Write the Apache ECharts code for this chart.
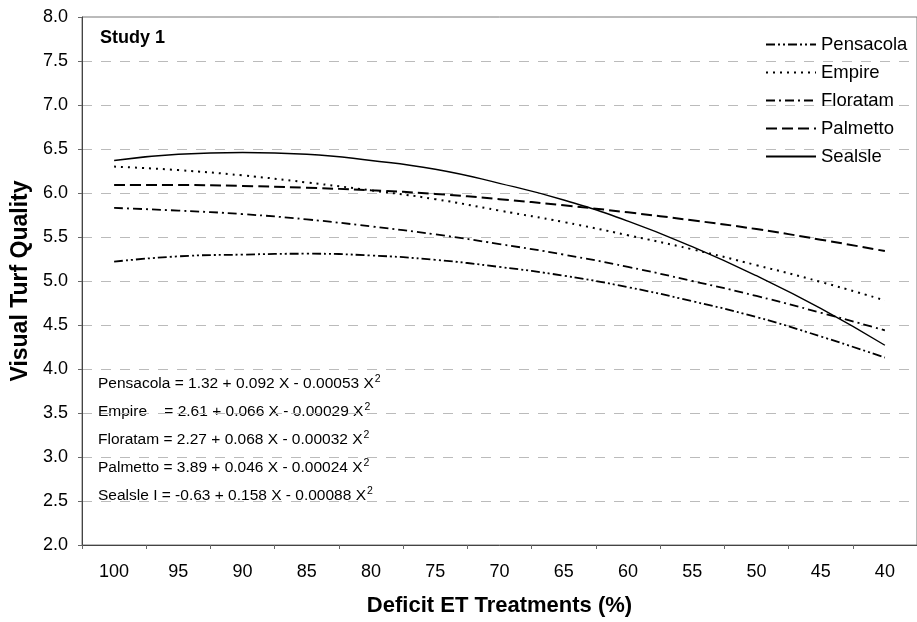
<!DOCTYPE html>
<html>
<head>
<meta charset="utf-8">
<script src="https://cdn.jsdelivr.net/npm/echarts@6/dist/echarts.min.js"></script>
<style>
  html, body { margin: 0; padding: 0; background: #fff; }
  #main { width: 917px; height: 622px; }
</style>
</head>
<body>
<div id="main"></div>
<script>
// 横轴：亏缺ET处理（%）
var categories = ['100', '95', '90', '85', '80', '75', '70', '65', '60', '55', '50', '45', '40'];

// 各草种的拟合曲线读数
var pensacola = [5.22, 5.28, 5.30, 5.31, 5.29, 5.24, 5.16, 5.06, 4.93, 4.77, 4.59, 4.37, 4.13];
var empire    = [6.30, 6.26, 6.20, 6.12, 6.03, 5.93, 5.80, 5.67, 5.52, 5.36, 5.18, 4.99, 4.78];
var floratam  = [5.83, 5.80, 5.76, 5.70, 5.62, 5.53, 5.42, 5.30, 5.16, 5.00, 4.83, 4.64, 4.44];
var palmetto  = [6.09, 6.09, 6.08, 6.06, 6.03, 5.99, 5.93, 5.86, 5.78, 5.69, 5.59, 5.47, 5.34];
var sealsle   = [6.37, 6.44, 6.46, 6.44, 6.37, 6.27, 6.11, 5.92, 5.68, 5.39, 5.06, 4.69, 4.27];

var seriesNames = ['Pensacola', 'Empire', 'Floratam', 'Palmetto', 'Sealsle'];

// 回归方程文字
var equations = [
    'Pensacola = 1.32 + 0.092 X - 0.00053 X',
    'Empire    = 2.61 + 0.066 X - 0.00029 X',
    'Floratam = 2.27 + 0.068 X - 0.00032 X',
    'Palmetto = 3.89 + 0.046 X - 0.00024 X',
    'Sealsle I = -0.63 + 0.158 X - 0.00088 X'
];

var FONT = '"Liberation Sans", Arial, sans-serif';

var myChart = echarts.init(document.getElementById('main'));

function lineSeries(name, data, type, width) {
    return {
        name: name,
        type: 'line',
        data: data,
        smooth: true,
        symbol: 'none',
        silent: true,
        itemStyle: { color: '#000' },
        lineStyle: { color: '#000', width: width, type: type }
    };
}

var eqGraphics = equations.map(function (e, i) {
    return {
        type: 'text',
        left: 98,
        top: 374 + i * 28,
        style: {
            text: e + '{sup|2}',
            font: '15.5px ' + FONT,
            fill: '#000',
            rich: {
                sup: { fontSize: 10.5, fontFamily: FONT, verticalAlign: 'top', padding: [0, 0, 8, 1], fill: '#000' }
            }
        }
    };
});

myChart.setOption({
    animation: false,
    backgroundColor: '#fff',
    textStyle: { fontFamily: FONT },
    grid: {
        left: 82,
        right: -7,
        top: 17,
        bottom: 77,
        show: true,
        borderColor: '#777',
        borderWidth: 1
    },
    legend: {
        data: seriesNames,
        orient: 'vertical',
        left: 760,
        top: 30,
        itemWidth: 50,
        itemHeight: 14,
        itemGap: 9,
        itemStyle: { opacity: 0 },
        textStyle: { fontFamily: FONT, fontSize: 18.5, color: '#000' }
    },
    xAxis: {
        type: 'category',
        data: categories,
        boundaryGap: true,
        name: 'Deficit ET Treatments (%)',
        nameLocation: 'middle',
        nameGap: 50,
        nameTextStyle: { fontFamily: FONT, fontSize: 22, fontWeight: 'bold', color: '#000' },
        axisLine: { lineStyle: { color: '#444', width: 1 } },
        axisTick: { show: true, length: 4, lineStyle: { color: '#666' } },
        axisLabel: { fontFamily: FONT, fontSize: 18, color: '#000', margin: 18 },
        splitLine: { show: false }
    },
    yAxis: {
        type: 'value',
        min: 2,
        max: 8,
        interval: 0.5,
        name: 'Visual Turf Quality',
        nameLocation: 'middle',
        nameGap: 49,
        nameTextStyle: { fontFamily: FONT, fontSize: 23, fontWeight: 'bold', color: '#000' },
        axisLine: { show: true, lineStyle: { color: '#444', width: 1 } },
        axisTick: { show: true, length: 4, lineStyle: { color: '#666' } },
        axisLabel: {
            fontFamily: FONT, fontSize: 18, color: '#000', margin: 14,
            formatter: function (v) { return v.toFixed(1); }
        },
        splitLine: { show: true, lineStyle: { color: '#bbb', width: 1, type: [10, 9] } }
    },
    series: [
        lineSeries('Pensacola', pensacola, [9, 3, 2, 3, 2, 3], 1.8),
        lineSeries('Empire', empire, [2, 5], 2),
        lineSeries('Floratam', floratam, [9, 4, 2, 4], 1.8),
        lineSeries('Palmetto', palmetto, [11, 5], 2),
        lineSeries('Sealsle', sealsle, 'solid', 1.4)
    ],
    graphic: [
        {
            type: 'text',
            left: 100,
            top: 29,
            style: { text: 'Study 1', font: 'bold 18px ' + FONT, fill: '#000' }
        }
    ].concat(eqGraphics)
});
</script>
</body>
</html>
